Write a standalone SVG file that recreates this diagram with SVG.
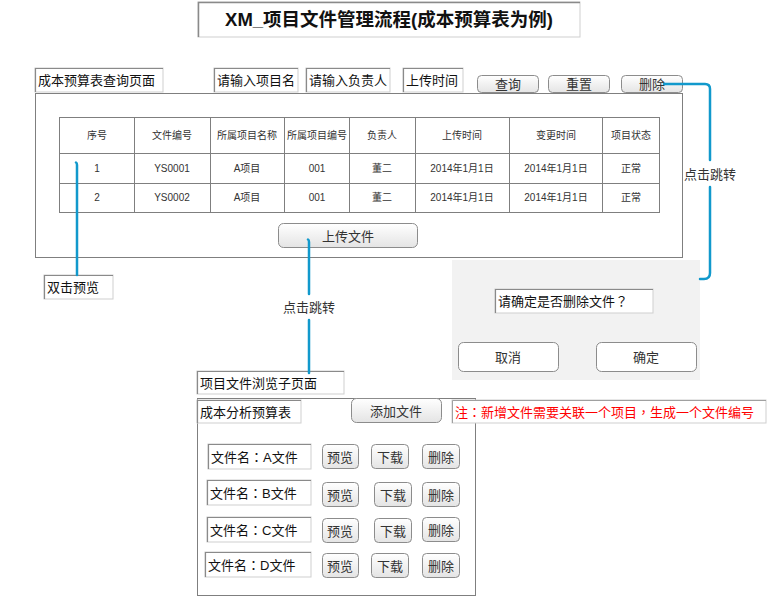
<svg xmlns="http://www.w3.org/2000/svg" width="767" height="599" viewBox="0 0 767 599">
  <defs>
    <linearGradient id="btnFill" x1="0" y1="0" x2="0" y2="1">
      <stop offset="0" stop-color="#ffffff"/>
      <stop offset="1" stop-color="#e4e4e4"/>
    </linearGradient>
    <style>
      text { font-family: "Liberation Sans", "Noto Sans CJK SC", sans-serif; }
      .p { font-family: "Noto Sans CJK TC", "Noto Sans CJK SC", sans-serif; }
      .box { fill: #ffffff; stroke: #cfcfcf; stroke-width: 1; }
      .edge { fill: none; stroke: #8a8a8a; stroke-width: 1.2; }
      .lbl { font-size: 13px; fill: #111111; }
      .btn { fill: url(#btnFill); stroke: #8c8c8c; stroke-width: 1; }
      .btn-w { fill: #ffffff; stroke: #8c8c8c; stroke-width: 1; }
      .btxt { font-size: 13px; fill: #333333; text-anchor: middle; }
      .panel { fill: #ffffff; stroke: #7f7f7f; stroke-width: 1; }
      .grid { fill: none; stroke: #7f7f7f; stroke-width: 1; }
      .cell { font-size: 10px; fill: #333333; text-anchor: middle; }
      .link { fill: none; stroke: #1199cc; stroke-width: 2.5; stroke-linecap: round; stroke-linejoin: round; }
      .note { font-size: 13px; fill: #333333; text-anchor: middle; }
    </style>
  </defs>

  <rect x="0" y="0" width="767" height="599" fill="#ffffff"/>

  <!-- title -->
  <g id="title">
    <rect x="198" y="2" width="382" height="35" class="box"/>
    <path d="M198.5 37 V2.5 H580" stroke="#8a8a8a" stroke-width="1.5" fill="none"/>
    <text x="389" y="26" font-size="18.5" font-weight="bold" fill="#111111" text-anchor="middle">XM_项目文件管理流程(成本预算表为例)</text>
  </g>

  <!-- query page header fields -->
  <g id="page-title">
    <rect x="35" y="68" width="128" height="24" class="box"/>
    <path d="M35.5 92 V68.5 H163" class="edge"/>
    <text x="38" y="85" class="lbl">成本预算表查询页面</text>
  </g>
  <g id="input-name">
    <rect x="214" y="68" width="84" height="24" class="box"/>
    <path d="M214.5 92 V68.5 H298" class="edge"/>
    <text x="217" y="85" class="lbl">请输入项目名</text>
  </g>
  <g id="input-owner">
    <rect x="306" y="68" width="84" height="24" class="box"/>
    <path d="M306.5 92 V68.5 H390" class="edge"/>
    <text x="309" y="85" class="lbl">请输入负责人</text>
  </g>
  <g id="input-time">
    <rect x="403" y="68" width="60" height="24" class="box"/>
    <path d="M403.5 92 V68.5 H463" class="edge"/>
    <text x="406" y="85" class="lbl">上传时间</text>
  </g>
  <g id="btn-query">
    <rect x="477.5" y="75.5" width="61" height="17" rx="4" class="btn"/>
    <text x="508" y="89" class="btxt">查询</text>
  </g>
  <g id="btn-reset">
    <rect x="548.5" y="75.5" width="61" height="17" rx="4" class="btn"/>
    <text x="579" y="89" class="btxt">重置</text>
  </g>
  <g id="btn-delete">
    <rect x="621.5" y="75.5" width="61" height="17" rx="4" class="btn"/>
    <text x="652" y="89" class="btxt">删除</text>
  </g>

  <!-- result panel with table -->
  <g id="result-panel">
    <rect x="35.5" y="93.5" width="647" height="164" class="panel"/>
    <rect x="59.5" y="117.5" width="600" height="95" class="grid"/>
    <path d="M59.5 153.5 H659.5 M59.5 183.5 H659.5" class="grid"/>
    <path d="M134.5 117.5 V212.5 M210.5 117.5 V212.5 M284.5 117.5 V212.5 M349.5 117.5 V212.5 M415.5 117.5 V212.5 M509.5 117.5 V212.5 M602.5 117.5 V212.5" class="grid"/>
    <g>
      <text x="97" y="139" class="cell">序号</text>
      <text x="172" y="139" class="cell">文件编号</text>
      <text x="247" y="139" class="cell">所属项目名称</text>
      <text x="317" y="139" class="cell">所属项目编号</text>
      <text x="382" y="139" class="cell">负责人</text>
      <text x="462" y="139" class="cell">上传时间</text>
      <text x="556" y="139" class="cell">变更时间</text>
      <text x="631" y="139" class="cell">项目状态</text>
    </g>
    <g>
      <text x="97" y="172" class="cell">1</text>
      <text x="172" y="172" class="cell">YS0001</text>
      <text x="247" y="172" class="cell">A项目</text>
      <text x="317" y="172" class="cell">001</text>
      <text x="382" y="172" class="cell">董二</text>
      <text x="462" y="172" class="cell">2014年1月1日</text>
      <text x="556" y="172" class="cell">2014年1月1日</text>
      <text x="631" y="172" class="cell">正常</text>
    </g>
    <g>
      <text x="97" y="201" class="cell">2</text>
      <text x="172" y="201" class="cell">YS0002</text>
      <text x="247" y="201" class="cell">A项目</text>
      <text x="317" y="201" class="cell">001</text>
      <text x="382" y="201" class="cell">董二</text>
      <text x="462" y="201" class="cell">2014年1月1日</text>
      <text x="556" y="201" class="cell">2014年1月1日</text>
      <text x="631" y="201" class="cell">正常</text>
    </g>
  </g>
  <g id="btn-upload">
    <rect x="278.5" y="223.5" width="139" height="24" rx="5" class="btn"/>
    <text x="348" y="241" class="btxt">上传文件</text>
  </g>

  <g id="preview-label">
    <rect x="44" y="275" width="69" height="24" class="box"/>
    <path d="M44.5 299 V275.5 H113" class="edge"/>
    <text x="47" y="292" class="lbl">双击预览</text>
  </g>

  <!-- delete confirmation dialog -->
  <g id="delete-dialog">
    <rect x="452" y="260" width="248" height="120" fill="#f2f2f2"/>
    <rect x="495" y="289" width="158" height="24" class="box"/>
    <path d="M495.5 313 V289.5 H653" class="edge"/>
    <text x="498" y="306" class="lbl">请确定是否删除文件<tspan class="p">？</tspan></text>
    <rect x="458.5" y="342.5" width="100" height="29" rx="5" class="btn-w"/>
    <text x="508" y="362" class="btxt">取消</text>
    <rect x="596.5" y="342.5" width="100" height="29" rx="5" class="btn-w"/>
    <text x="646" y="362" class="btxt">确定</text>
  </g>

  <!-- file browse sub page -->
  <g id="browse-title">
    <rect x="197" y="371" width="147" height="23" class="box"/>
    <path d="M197.5 394 V371.5 H344" class="edge"/>
    <text x="200" y="388" class="lbl">项目文件浏览子页面</text>
  </g>
  <g id="browse-panel">
    <rect x="197.5" y="398.5" width="278" height="197" class="panel"/>
  </g>
  <g id="sheet-name">
    <rect x="197" y="400" width="104" height="23" class="box"/>
    <path d="M197.5 423 V400.5 H301" class="edge"/>
    <text x="200" y="417" class="lbl">成本分析预算表</text>
  </g>
  <g id="btn-add">
    <rect x="351.5" y="398.5" width="90" height="24" rx="5" class="btn"/>
    <text x="396" y="416" class="btxt">添加文件</text>
  </g>
  <g id="add-note">
    <rect x="452" y="400" width="314" height="23" class="box"/>
    <path d="M452.5 423 V400.5 H766" stroke="#a0a0a0" stroke-width="1" fill="none"/>
    <text x="455" y="417" font-size="13" fill="#ff0000">注<tspan class="p">：</tspan>新增文件需要关联一个项目<tspan class="p">，</tspan>生成一个文件编号</text>
  </g>

  <g id="file-a">
    <rect x="208" y="444" width="103" height="25" class="box"/>
    <path d="M208.5 469 V444.5 H311" class="edge"/>
    <text x="211" y="462" class="lbl">文件名<tspan class="p">：</tspan>A文件</text>
    <rect x="322.5" y="444.5" width="36" height="24" rx="4" class="btn"/>
    <text x="340" y="462" class="btxt">预览</text>
    <rect x="371.5" y="444.5" width="37" height="24" rx="4" class="btn"/>
    <text x="390" y="462" class="btxt">下载</text>
    <rect x="422.5" y="444.5" width="37" height="24" rx="4" class="btn"/>
    <text x="441" y="462" class="btxt">删除</text>
  </g>
  <g id="file-b">
    <rect x="207" y="480" width="104" height="25" class="box"/>
    <path d="M207.5 505 V480.5 H311" class="edge"/>
    <text x="210" y="498" class="lbl">文件名<tspan class="p">：</tspan>B文件</text>
    <rect x="322.5" y="482.5" width="36" height="24" rx="4" class="btn"/>
    <text x="340" y="500" class="btxt">预览</text>
    <rect x="374.5" y="482.5" width="37" height="24" rx="4" class="btn"/>
    <text x="393" y="500" class="btxt">下载</text>
    <rect x="422.5" y="482.5" width="37" height="24" rx="4" class="btn"/>
    <text x="441" y="500" class="btxt">删除</text>
  </g>
  <g id="file-c">
    <rect x="207" y="517" width="104" height="25" class="box"/>
    <path d="M207.5 542 V517.5 H311" class="edge"/>
    <text x="210" y="535" class="lbl">文件名<tspan class="p">：</tspan>C文件</text>
    <rect x="322.5" y="518.5" width="36" height="24" rx="4" class="btn"/>
    <text x="340" y="536" class="btxt">预览</text>
    <rect x="374.5" y="518.5" width="37" height="24" rx="4" class="btn"/>
    <text x="393" y="536" class="btxt">下载</text>
    <rect x="422.5" y="517.5" width="37" height="24" rx="4" class="btn"/>
    <text x="441" y="535" class="btxt">删除</text>
  </g>
  <g id="file-d">
    <rect x="205" y="552" width="106" height="25" class="box"/>
    <path d="M205.5 577 V552.5 H311" class="edge"/>
    <text x="208" y="570" class="lbl">文件名<tspan class="p">：</tspan>D文件</text>
    <rect x="322.5" y="553.5" width="36" height="24" rx="4" class="btn"/>
    <text x="340" y="571" class="btxt">预览</text>
    <rect x="371.5" y="553.5" width="37" height="24" rx="4" class="btn"/>
    <text x="390" y="571" class="btxt">下载</text>
    <rect x="422.5" y="553.5" width="37" height="24" rx="4" class="btn"/>
    <text x="441" y="571" class="btxt">删除</text>
  </g>

  <!-- connectors -->
  <g id="connectors">
    <path d="M76 162.5 Q77 163 77 165 V275" class="link"/>
    <path d="M308 239.5 Q309 240 309 242 V294" class="link"/>
    <path d="M309 320 V373" class="link"/>
    <text x="309" y="312" class="note">点击跳转</text>
    <path d="M664 84 H705 Q710 84 710 89 V160" class="link"/>
    <path d="M710 187 V273 Q710 279 704 279 H700" class="link"/>
    <text x="710" y="179" class="note">点击跳转</text>
  </g>
</svg>
